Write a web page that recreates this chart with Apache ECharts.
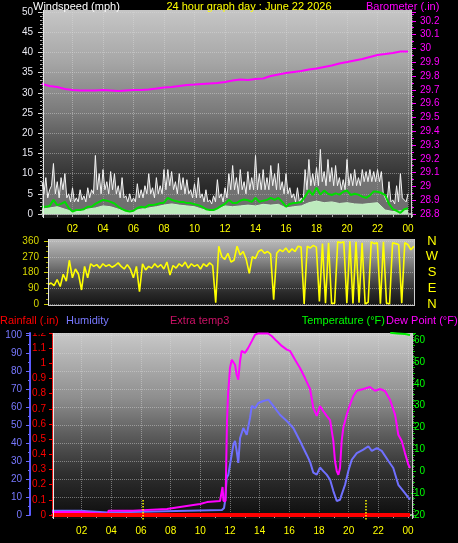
<!DOCTYPE html>
<html><head><meta charset="utf-8">
<script src="https://cdn.jsdelivr.net/npm/echarts@6/dist/echarts.min.js"></script>
<style>html,body{margin:0;padding:0;background:#000}#c{width:458px;height:543px}</style>
</head><body><div id="c"></div>
<script>
// ---------- DATA ----------
const chartTitle = '24 hour graph day : June 22 2026';
const hourLabels = ['02','04','06','08','10','12','14','16','18','20','22','00'];

// Panel 1 : wind gusts (sampled every 0.125 h from 00:00)
const gustStepHours = 0.125;
const windGust = [
  8,5,9,4,6,7,12.5,5,8,4,9,6,10,4,5,3,6.5,3,4,3,
  6,3.5,4.5,3,6.5,4,6,5,14.5,6,10,5,11,6,8,5,10.5,6,10,5,
  7,4,9,4,4.5,3,5,3,4,3,7.5,4,6,4,7,5,10,5,6.5,4,
  9,5,7,5,11,6,11,7,10.5,6,8,5,10,6,9,5,8.5,5,6,4,
  7.5,4,9,4,5,3,6,3,3.5,2.5,4.5,3,8.5,4,5,3,6.5,4,10,6,
  12,6,9,5,11,6,8,5,10.5,6,9,6,14.5,6,10,6,11,6,9,6,
  12,7,10,6,12.5,6,8,5,10,5,6.5,4,5,3,6.5,3,4,3,11,6,
  13.5,7,10,7,11.5,7,16,8,10.5,7,13.5,8,11.5,7,12,7,9,6,8.5,6,
  13.5,7,10,7,11,7,9,7,11,8,10.5,8,11,8,10.5,8,11,8,10.5,5,
  5,3,8,3,3.5,2.5,7,3,10,4,4,3,5];
// average wind (sampled every 0.25 h)
const avgStepHours = 0.25;
const windAvg = [1.8,1.8,2,3.5,2.2,2.5,3,1.5,0.6,1,
  1,1.2,1.8,1.8,2.5,3,3.5,3.3,3,2.6,
  1.8,1.2,0.8,0.6,0.8,1.5,1.8,1.6,2.2,2.2,
  2.4,2.7,2.8,4,3.5,3.2,3,3,2.7,2.7,
  2.4,2.2,1.8,1.2,1,1,1.4,2,2.5,3.5,
  2.7,2.7,3.3,3.6,3.4,3,4,3,3.3,3.5,
  4,3.5,4,3,1.8,2.5,2.7,2.8,3,4.3,
  5.9,4.7,6.5,4.8,5.8,5,4.7,5.1,4.8,5.5,
  5.8,4.7,5,4.8,4.3,4,4.6,5.6,5.5,5.2,
  4.7,2.5,1.2,0.8,0.3,1.2,1.4];
// sampled every 0.5 h
const halfStepHours = 0.5;
const windLow = [1.2,1.5,1.8,1.2,0.6,0.8,1.2,1.5,2,1.8,
  1.2,0.6,0.8,1.2,1.5,1.8,2.2,2.5,2.2,2,
  1.8,1.2,0.8,1.2,2,1.8,2,2.2,2,2.4,
  2.2,2.4,1.5,1.8,2,2.8,3.2,2.8,3,2.6,
  2.8,2.5,2.4,2.6,2.8,1,0.6,0.8,1];
const barometer = [29.742,29.728,29.72,29.706,29.699,29.695,29.695,29.695,29.699,29.695,
  29.691,29.695,29.699,29.699,29.702,29.709,29.717,29.72,29.728,29.735,
  29.738,29.742,29.746,29.749,29.757,29.767,29.775,29.771,29.778,29.782,
  29.8,29.811,29.822,29.829,29.836,29.847,29.854,29.865,29.876,29.891,
  29.901,29.912,29.923,29.938,29.952,29.959,29.967,29.978,29.978];

// Panel 2 : wind direction (sampled every 0.2 h)
const dirStepHours = 0.2;
const windDir = [110,120,105,140,100,170,130,250,150,200,
  170,80,215,150,230,215,225,205,230,215,
  225,210,220,235,215,200,225,200,150,215,
  70,230,195,215,205,230,210,225,200,240,
  165,220,205,230,215,240,205,230,215,225,
  200,230,215,235,220,8,330,270,255,290,
  240,250,330,280,300,255,175,270,260,300,
  310,290,300,285,25,290,310,300,320,295,
  315,300,330,325,0,330,320,335,325,15,
  345,5,350,2,5,355,350,355,5,358,
  3,355,8,350,0,10,355,345,350,2,
  355,5,0,350,345,340,5,350,340,310,
  330];

// Panel 3
const rainHours = [0, 24.14];
const rainfall = [0, 0];
const humHours = [0,1.89,1.92,3.78,3.81,11.46,11.6,11.67,11.78,11.89,12.0,12.23,12.34,12.45,12.56,12.68,12.9,13.13,13.35,13.47,13.69,13.91,14.25,14.59,14.92,15.37,15.83,16.27,16.72,17.17,17.4,17.62,17.85,18.07,18.29,18.52,18.75,18.97,19.2,19.42,19.53,19.76,19.98,20.21,20.55,20.99,21.33,21.56,21.9,22.23,22.68,23.01,23.35,23.69,24.14];
const humidity = [2.4,2.4,1.4,1.4,2.4,2.8,3.9,7.8,20.6,22.4,27.9,39.1,41.1,35.6,28.9,42.8,48.3,44.6,53.9,60.6,59.4,62.2,63.3,64.1,60.6,55.7,52.2,48.3,41.1,33.5,29.5,23.5,22.4,26.5,24.4,22.4,19.6,13.3,7.8,8.5,11.3,16.8,24.4,30.7,34.4,36.3,38.2,35.6,37.2,35.6,30.0,26.1,16.8,13.3,8.5];
const dewHours = [0,1.89,1.92,3.78,3.81,5.46,7.75,8.63,9.98,10.45,11.33,11.46,11.5,11.56,11.7,11.8,11.87,12.0,12.12,12.2,12.34,12.45,12.56,12.68,12.79,13.01,13.22,13.47,13.69,13.91,14.23,14.57,14.81,15.15,15.49,15.83,16.05,16.39,16.72,17.06,17.4,17.62,17.85,18.07,18.29,18.52,18.75,18.97,19.08,19.2,19.31,19.42,19.53,19.64,19.87,20.09,20.32,20.55,20.99,21.44,21.78,22.12,22.45,22.79,23.13,23.35,23.58,23.8,24.03,24.14];
const dewPoint = [-18.6,-18.6,-19.5,-19.5,-18.0,-18.0,-17.3,-16.3,-15.0,-14.1,-13.6,-13.6,-7.2,-13.6,-13.6,23.4,35.0,47.2,51.0,50.4,48.7,44.1,41.9,50.4,55.0,54.1,56.3,59.5,62.4,63.0,63.0,63.0,61.8,59.5,57.3,55.6,55.0,51.0,47.2,42.6,37.6,28.9,25.3,29.8,27.5,25.3,23.4,13.8,4.7,0.1,-1.6,1.5,13.8,19.8,25.9,30.4,34.4,36.8,37.6,38.5,36.8,37.6,36.7,32.7,25.9,16.7,13.8,8.3,3.0,1.5];
const tempHours = [22.8, 23.3, 23.8, 24.14];
const temperature = [63.3, 63.0, 62.7, 62.3];
const markerHours = [6.14, 21.17];
const markerRain = 0.1;

// ---------- CHART ----------
const FONT = '"Liberation Sans", Arial, sans-serif';
const pairs = (xs, ys) => xs.map((x, i) => [x, ys[i]]);
const times = (n, step) => Array.from({length: n}, (_, i) => +(i * step).toFixed(3));
const hourFmt = v => {
  const r = Math.round(v);
  if (Math.abs(v - r) > 1e-6 || r <= 0 || r % 2) return '';
  return hourLabels[r / 2 - 1] || '';
};
const gridLine = {color: 'rgba(220,220,220,0.45)', type: 'dotted', width: 1};
const grad = stops => new echarts.graphic.LinearGradient(0, 0, 0, 1, stops.map(s => ({offset: s[0], color: s[1]})));
const txt = (x, y, text, color, align) => ({type: 'text', x: x, y: y, z: 50,
  style: {text: text, fill: color, font: '11px ' + FONT, textAlign: align || 'left', textVerticalAlign: 'middle'}});
const vline = (x, y1, y2, c) => ({type: 'line', z: 40, shape: {x1: x, y1: y1, x2: x, y2: y2}, style: {stroke: c, lineWidth: 1}});
const hline = (x1, x2, y, c) => ({type: 'line', z: 40, shape: {x1: x1, y1: y, x2: x2, y2: y}, style: {stroke: c, lineWidth: 1}});

const chart = echarts.init(document.getElementById('c'), null, {renderer: 'canvas'});
const lineS = (xi, yi, data, color, width, extra) => Object.assign({
  type: 'line', xAxisIndex: xi, yAxisIndex: yi, data: data, symbol: 'none', silent: true,
  lineStyle: {color: color, width: width}, itemStyle: {color: color}
}, extra || {});

const series = [
  lineS(0, 0, pairs(times(windGust.length, gustStepHours), windGust), '#f4f4f4', 1, {areaStyle: {color: 'rgba(165,165,165,0.85)'}, z: 2}),
  lineS(0, 0, pairs(times(windLow.length, halfStepHours), windLow), '#c8f2c8', 1, {areaStyle: {color: '#bdeabd', opacity: 1}, z: 3}),
  lineS(0, 0, pairs(times(windAvg.length, avgStepHours), windAvg), '#00dd00', 2, {z: 4}),
  lineS(0, 1, pairs(times(barometer.length, halfStepHours), barometer), '#ff00ff', 2, {z: 5}),
  lineS(1, 2, pairs(times(windDir.length, dirStepHours), windDir), '#ffff00', 1.6),
  lineS(2, 4, pairs(rainHours, rainfall), '#ff0000', 4, {clip: false, z: 6}),
  lineS(2, 5, pairs(humHours, humidity), '#7070ff', 2, {z: 4}),
  lineS(2, 6, pairs(dewHours, dewPoint), '#ff00ff', 2, {z: 5}),
  lineS(2, 6, pairs(tempHours, temperature), '#00ee00', 2, {z: 5})
];
markerHours.forEach(h => series.push(lineS(2, 4, [[h, -0.03], [h, markerRain]], '#ffff00', 1.5, {clip: false, z: 7, lineStyle: {color: '#ffff00', width: 1.5, type: 'dotted'}})));

chart.setOption({
  backgroundColor: '#000',
  animation: false,
  grid: [
    {left: 42, top: 12, width: 370, height: 202},
    {left: 48, top: 241, width: 367, height: 63},
    {left: 52, top: 333, width: 361, height: 182}
  ],
  xAxis: [
    {type: 'value', gridIndex: 0, min: 0, max: 24.26, interval: 2, offset: 4,
      axisLine: {show: true, lineStyle: {color: '#c8c8c8', width: 1.5}},
      axisTick: {show: true, length: 3, lineStyle: {color: '#a8a8a8'}},
      minorTick: {show: true, splitNumber: 2, length: 3, lineStyle: {color: '#a8a8a8'}},
      axisLabel: {color: '#ffff00', fontSize: 10, fontFamily: FONT, margin: 6, formatter: hourFmt},
      splitLine: {show: true, lineStyle: gridLine}},
    {type: 'value', gridIndex: 1, min: 0, max: 24.07, show: false},
    {type: 'value', gridIndex: 2, min: 0, max: 24.34, interval: 2, offset: 4,
      axisLine: {show: true, lineStyle: {color: '#c8c8c8', width: 1.5}},
      axisTick: {show: true, length: 3, lineStyle: {color: '#a8a8a8'}},
      minorTick: {show: true, splitNumber: 2, length: 3, lineStyle: {color: '#a8a8a8'}},
      axisLabel: {color: '#ffff00', fontSize: 10, fontFamily: FONT, margin: 7, formatter: hourFmt},
      splitLine: {show: true, lineStyle: gridLine}}
  ],
  yAxis: [
    {type: 'value', gridIndex: 0, position: 'left', min: 0, max: 50, interval: 5,
      axisLine: {show: false},
      axisTick: {show: true, length: 4, lineStyle: {color: '#d8d8d8'}},
      minorTick: {show: true, splitNumber: 5, length: 2, lineStyle: {color: '#b8b8b8'}},
      axisLabel: {color: '#e8e8f0', fontSize: 10, fontFamily: FONT, margin: 9},
      splitLine: {show: true, lineStyle: gridLine}},
    {type: 'value', gridIndex: 0, position: 'right', min: 28.8, max: 30.264, interval: 0.1,
      axisLine: {show: false},
      axisTick: {show: true, length: 4, lineStyle: {color: '#ff00ff'}},
      minorTick: {show: true, splitNumber: 2, length: 2, lineStyle: {color: '#ff00ff'}},
      axisLabel: {color: '#ff00ff', fontSize: 10, fontFamily: FONT, margin: 8,
        formatter: v => v > 30.2001 ? '' : String(+v.toFixed(1))},
      splitLine: {show: false}},
    {type: 'value', gridIndex: 1, position: 'left', min: 0, max: 360, interval: 90,
      axisLine: {show: false},
      axisTick: {show: true, length: 4, lineStyle: {color: '#c8c800'}},
      minorTick: {show: true, splitNumber: 3, length: 2, lineStyle: {color: '#a0a000'}},
      axisLabel: {color: '#d8d800', fontSize: 10, fontFamily: FONT, margin: 9},
      splitLine: {show: true, lineStyle: gridLine}},
    {type: 'value', gridIndex: 1, position: 'right', min: 0, max: 360, interval: 90,
      axisLine: {show: false}, axisTick: {show: false},
      axisLabel: {color: '#ffff00', fontSize: 13, fontFamily: FONT, margin: 17, align: 'center',
        formatter: v => ({0: 'N', 90: 'E', 180: 'S', 270: 'W', 360: 'N'})[v] || ''},
      splitLine: {show: false}},
    {type: 'value', gridIndex: 2, position: 'left', min: 0, max: 1.2, interval: 0.1,
      axisLine: {show: true, lineStyle: {color: '#ff0000', type: 'dotted', width: 1}},
      axisTick: {show: true, length: 3, lineStyle: {color: '#ff0000'}},
      axisLabel: {color: '#ff0000', fontSize: 10, fontFamily: FONT, margin: 6,
        formatter: v => String(+v.toFixed(1))},
      splitLine: {show: false}},
    {type: 'value', gridIndex: 2, position: 'left', offset: 22, min: 0, max: 101.1, interval: 10,
      axisLine: {show: true, lineStyle: {color: '#5a5aff', width: 2}},
      axisTick: {show: true, length: 4, lineStyle: {color: '#6a6aff'}},
      minorTick: {show: true, splitNumber: 2, length: 2, lineStyle: {color: '#6a6aff'}},
      axisLabel: {color: '#7878ff', fontSize: 10, fontFamily: FONT, margin: 8,
        formatter: v => v > 100.01 ? '' : String(Math.round(v))},
      splitLine: {show: true, lineStyle: gridLine}},
    {type: 'value', gridIndex: 2, position: 'right', min: -20, max: 63.2, interval: 10,
      axisLine: {show: false},
      axisTick: {show: true, length: 3, lineStyle: {color: '#00d000'}},
      minorTick: {show: true, splitNumber: 4, length: 2, lineStyle: {color: '#00c000'}},
      axisLabel: {color: '#00ff00', fontSize: 10, fontFamily: FONT, margin: 12, align: 'right',
        formatter: v => v > 60.01 ? '' : String(Math.round(v))},
      splitLine: {show: false}}
  ],
  graphic: {elements: [
    {type: 'rect', z: -10, shape: {x: 43, y: 10, width: 369, height: 208},
      style: {fill: grad([[0, '#c6c6c6'], [0.25, '#a6a6a6'], [0.5, '#787878'], [0.7, '#474747'], [0.85, '#2a2a2a'], [1, '#1a1a1a']])}},
    {type: 'rect', z: -10, shape: {x: 48, y: 239, width: 367, height: 67},
      style: {fill: grad([[0, '#bcbcbc'], [0.3, '#8a8a8a'], [0.55, '#555555'], [0.8, '#2a2a2a'], [1, '#141414']])}},
    {type: 'rect', z: -10, shape: {x: 53, y: 333, width: 360, height: 186},
      style: {fill: grad([[0, '#c8c8c8'], [0.35, '#8e8e8e'], [0.55, '#5c5c5c'], [0.75, '#303030'], [1, '#0c0c0c']])}},
    vline(43.5, 10, 218, '#e8e8e8'), vline(411.5, 10, 218, '#d0d0d0'),
    vline(48.5, 239, 306, '#e8e8e8'), vline(414.5, 239, 306, '#d0d0d0'), hline(48, 415, 305.5, '#c8c8c8'),
    vline(53.5, 333, 519, '#e8e8e8'), vline(412.5, 333, 519, '#d0d0d0'),
    {type: 'rect', z: 60, shape: {x: 31, y: 326, width: 20, height: 7}, style: {fill: '#000'}},
    txt(33, 7, 'Windspeed (mph)', '#ffffff'),
    txt(249, 7, chartTitle, '#ffff00', 'center'),
    txt(366, 7, 'Barometer (.in)', '#ff00ff'),
    txt(0, 321, 'Rainfall (.in)', '#ff0000'),
    txt(66, 321, 'Humidity', '#7878ff'),
    txt(170, 321, 'Extra temp3', '#cc1166'),
    txt(385, 321, 'Temperature (°F)', '#00ff00', 'right'),
    txt(386, 321, 'Dew Point (°F)', '#ff00ff')
  ]},
  series: series
});
</script></body></html>
